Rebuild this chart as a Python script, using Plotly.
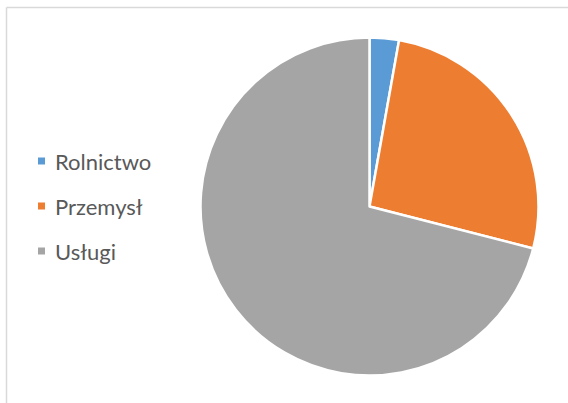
import plotly.graph_objects as go

categories = ["Rolnictwo", "Przemysł", "Usługi"]
values = [2.8, 26.2, 71.0]
colors = ["#5B9BD5", "#ED7D31", "#A5A5A5"]

W, H = 568, 403

fig = go.Figure()
fig.add_trace(go.Pie(
    labels=categories,
    values=values,
    sort=False,
    direction="clockwise",
    rotation=0,
    marker=dict(colors=colors, line=dict(color="white", width=2.5)),
    textinfo="none",
    hoverinfo="label+value",
    domain=dict(x=[200.5 / W, 538.5 / W], y=[(H - 375.5) / H, (H - 37.5) / H]),
    showlegend=False,
))

# chart border (top and left edges visible)
fig.add_shape(type="line", xref="paper", yref="paper",
              x0=6.5 / W, x1=1.0, y0=1 - 7.5 / H, y1=1 - 7.5 / H,
              line=dict(color="#D9D9D9", width=1.5))
fig.add_shape(type="line", xref="paper", yref="paper",
              x0=6.5 / W, x1=6.5 / W, y0=1 - 7.5 / H, y1=0,
              line=dict(color="#D9D9D9", width=1.5))

# legend built from the category list
first_y, gap = 161, 45
for i, (cat, col) in enumerate(zip(categories, colors)):
    cy = first_y + i * gap
    fig.add_shape(type="rect", xref="paper", yref="paper",
                  x0=38 / W, x1=45 / W, y0=1 - (cy - 3.5) / H, y1=1 - (cy + 3.5) / H,
                  fillcolor=col, line=dict(width=0))
    fig.add_annotation(xref="paper", yref="paper", x=53 / W, y=1 - (cy + 0.5) / H,
                       text=cat, showarrow=False, xanchor="left", yanchor="middle",
                       font=dict(family="Lato", size=22, color="#595959"))

fig.update_layout(
    width=W, height=H,
    margin=dict(l=0, r=0, t=0, b=0),
    paper_bgcolor="white",
    plot_bgcolor="white",
)

fig.write_html("out.html", config={"displayModeBar": False},
               post_script="document.body.style.margin='0';document.body.style.overflow='hidden';")
